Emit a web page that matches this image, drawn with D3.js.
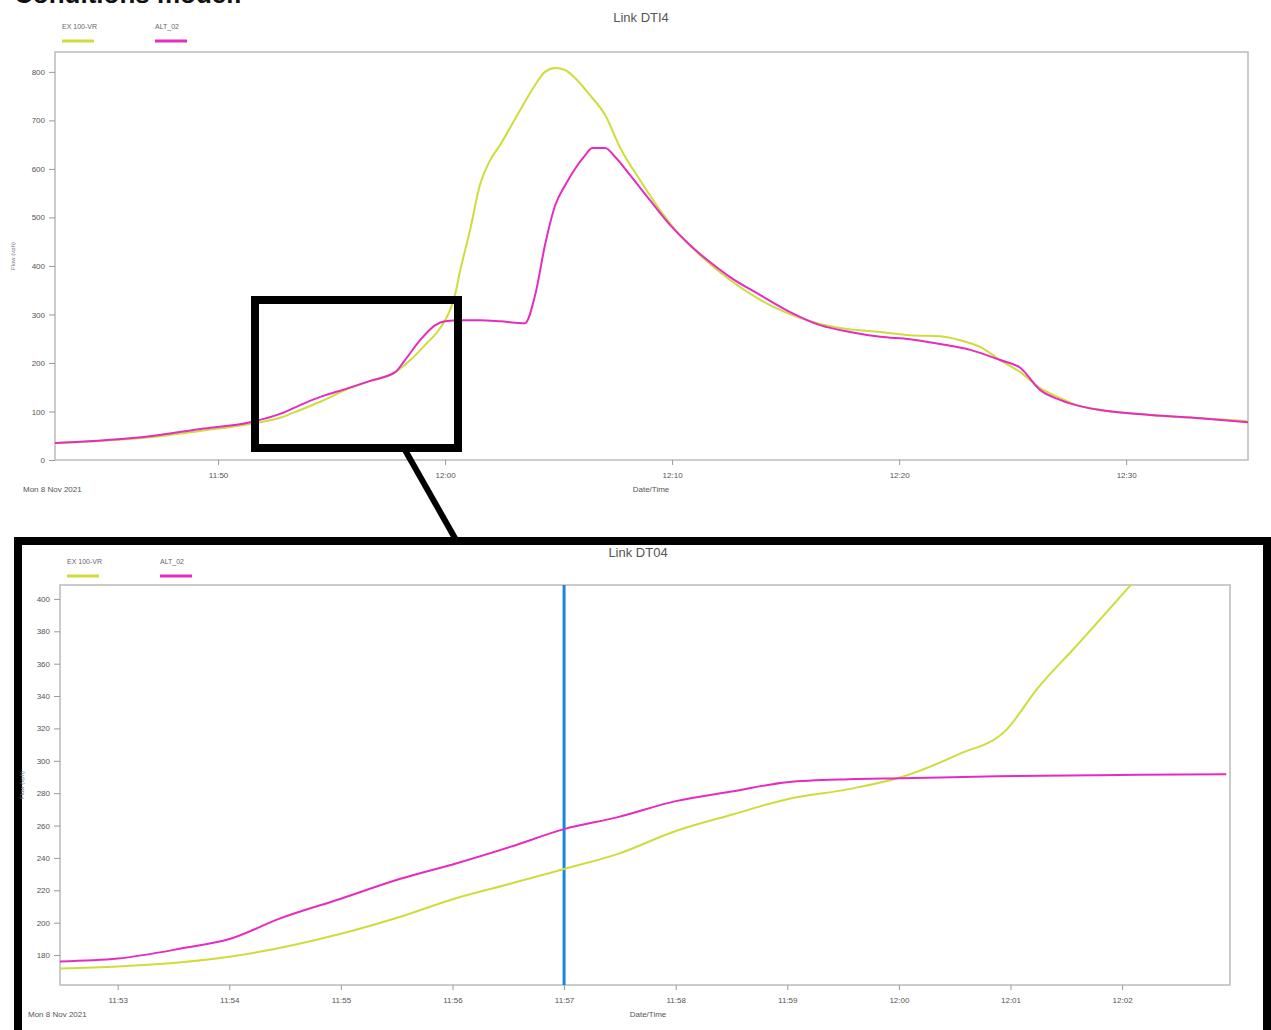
<!DOCTYPE html>
<html>
<head>
<meta charset="utf-8">
<script src="https://d3js.org/d3.v7.min.js"></script>
<style>
  body { margin: 0; background: #fff; }
  svg { display: block; font-family: "Liberation Sans", Arial, sans-serif; }
  .tick text { fill: #555; font-size: 8px; }
  .tick line { stroke: #999; }
  .domain { display: none; }
</style>
</head>
<body>
<svg width="1271" height="1030"></svg>
<script>
// ---- top chart: Link DTI4 (whole peak) ----
var topExTimes = ["11:42:49","11:47:00","11:49:13","11:51:25","11:52:44","11:53:37","11:54:30","11:55:36","11:56:42","11:57:48","11:58:28","11:59:07","11:59:47","12:00:13","12:00:26","12:00:40","12:01:06","12:01:32","12:01:59","12:02:25","12:03:18","12:03:58","12:04:24","12:04:51","12:05:17","12:05:44","12:06:23","12:07:03","12:07:43","12:08:35","12:09:28","12:10:21","12:11:14","12:12:33","12:13:53","12:15:38","12:17:24","12:19:10","12:20:29","12:21:48","12:22:41","12:23:34","12:24:27","12:25:20","12:26:13","12:27:05","12:27:58","12:28:51","12:31:04","12:33:16","12:35:22"];
var topExFlow = [35,47,60,74,87,103,120,144,163,181,206,237,272,309,340,391,474,567,618,649,721,773,800,808,804,787,752,711,643,577,515,463,422,371,330,293,272,264,257,255,247,233,206,181,148,128,111,103,93,86,80];

var topAltTimes = ["11:42:49","11:47:00","11:49:13","11:51:25","11:52:44","11:53:37","11:54:30","11:55:36","11:56:42","11:57:48","11:58:14","11:58:54","11:59:34","12:00:00","12:00:40","12:01:32","12:02:25","12:03:31","12:03:58","12:04:24","12:04:51","12:05:17","12:05:44","12:06:10","12:06:29","12:07:03","12:07:29","12:08:09","12:09:02","12:09:55","12:10:47","12:11:40","12:12:33","12:13:53","12:15:12","12:16:31","12:17:50","12:19:10","12:20:29","12:21:48","12:23:08","12:24:27","12:25:20","12:26:13","12:27:05","12:27:58","12:28:51","12:31:04","12:33:16","12:35:22"];
var topAltFlow = [35,49,64,78,95,113,130,146,163,181,206,247,278,286,288,288,286,282,340,443,525,566,601,628,643,643,625,587,535,484,443,408,377,340,305,278,264,254,249,239,227,206,190,144,124,111,103,93,86,78];

var topTicksX = ["11:50:00","12:00:00","12:10:00","12:20:00","12:30:00"];
var topTicksY = [0,100,200,300,400,500,600,700,800];

// ---- bottom chart: Link DT04 (zoom 11:52 - 12:03) ----
var botExTimes = ["11:52:29","11:53:00","11:54:01","11:55:00","11:55:32","11:56:01","11:56:31","11:57:00","11:57:29","11:58:00","11:58:31","11:59:00","11:59:33","12:00:01","12:00:32","12:00:58","12:01:14","12:01:36","12:02:08"];
var botExFlow = [171.7,172.9,179.1,193.2,203.7,214.8,224,233.2,242.5,256.6,267,276.3,282.5,289.8,304,319.4,344,371.7,413];

var botAltTimes = ["11:52:29","11:53:00","11:53:34","11:54:01","11:54:27","11:55:00","11:55:32","11:56:01","11:56:31","11:57:00","11:57:29","11:58:00","11:58:31","11:59:00","11:59:33","12:00:01","12:00:53","12:01:47","12:02:56"];
var botAltFlow = [176,177.8,184,190.2,202.5,214.8,227.1,236.3,246.8,257.8,265.2,275.1,281.2,286.8,288.6,289.2,290.5,291.1,291.7];

var botTicksX = ["11:53:00","11:54:00","11:55:00","11:56:00","11:57:00","11:58:00","11:59:00","12:00:00","12:01:00","12:02:00"];
var botTicksY = [180,200,220,240,260,280,300,320,340,360,380,400];
var markerTime = "11:57:00";

var seriesNames = ["EX 100-VR", "ALT_02"];
var seriesColors = ["#cfdc3a", "#e52cc0"];

var parseT = d3.timeParse("%H:%M:%S");
var fmtT = d3.timeFormat("%H:%M");
var svg = d3.select("svg");

function zip(times, vals) {
  return times.map(function(t, i) { return {t: parseT(t), v: vals[i]}; });
}

function drawChart(cfg) {
  var x = d3.scaleTime().domain(cfg.xDomain.map(parseT)).range([cfg.left, cfg.right]);
  var y = d3.scaleLinear().domain(cfg.yDomain).range([cfg.bottom, cfg.top]);

  // title
  svg.append("text").attr("x", cfg.titleX).attr("y", cfg.titleY)
    .attr("text-anchor", "middle").attr("fill", "#555").style("font-size", "13px")
    .text(cfg.title);

  // legend
  seriesNames.forEach(function(name, i) {
    var lx = cfg.legendX + i * 93;
    svg.append("text").attr("x", lx).attr("y", cfg.legendY)
      .attr("fill", "#666").style("font-size", "7px").text(name);
    svg.append("line").attr("x1", lx).attr("x2", lx + 32)
      .attr("y1", cfg.legendY + 12).attr("y2", cfg.legendY + 12)
      .attr("stroke", seriesColors[i]).attr("stroke-width", 3);
  });

  // plot frame
  svg.append("rect").attr("x", cfg.left).attr("y", cfg.top)
    .attr("width", cfg.right - cfg.left).attr("height", cfg.bottom - cfg.top)
    .attr("fill", "none").attr("stroke", "#bbb").attr("stroke-width", 1.5);

  // axes
  svg.append("g").attr("transform", "translate(" + cfg.left + ",0)")
    .call(d3.axisLeft(y).tickValues(cfg.yTicks).tickSize(6).tickPadding(4));
  svg.append("g").attr("transform", "translate(0," + cfg.bottom + ")")
    .call(d3.axisBottom(x).tickValues(cfg.xTicks.map(parseT)).tickFormat(fmtT).tickSize(5).tickPadding(7));

  svg.append("text").attr("x", cfg.dateX).attr("y", cfg.bottom + 32)
    .attr("fill", "#555").style("font-size", "8px").text("Mon 8 Nov 2021");
  svg.append("text").attr("x", cfg.dtX).attr("y", cfg.bottom + 32)
    .attr("text-anchor", "middle").attr("fill", "#555").style("font-size", "8px").text("Date/Time");
  svg.append("text")
    .attr("transform", "translate(" + cfg.yLabelX + "," + ((cfg.top + cfg.bottom) / 2) + ") rotate(-90)")
    .attr("text-anchor", "middle").attr("fill", "#777").style("font-size", "6px").text("Flow (vph)");

  // clip + lines
  var clipId = "clip" + cfg.id;
  svg.append("clipPath").attr("id", clipId).append("rect")
    .attr("x", cfg.left).attr("y", cfg.top)
    .attr("width", cfg.right - cfg.left).attr("height", cfg.bottom - cfg.top);
  var g = svg.append("g").attr("clip-path", "url(#" + clipId + ")");
  var line = d3.line().x(function(d) { return x(d.t); }).y(function(d) { return y(d.v); })
    .curve(d3.curveMonotoneX);

  if (cfg.marker) {
    g.append("line").attr("x1", x(parseT(cfg.marker))).attr("x2", x(parseT(cfg.marker)))
      .attr("y1", cfg.top).attr("y2", cfg.bottom)
      .attr("stroke", "#1a86e0").attr("stroke-width", 3);
  }
  cfg.series.forEach(function(s, i) {
    g.append("path").datum(s).attr("d", line)
      .attr("fill", "none").attr("stroke", seriesColors[i]).attr("stroke-width", cfg.lineW);
  });
  return x;
}

// page heading, cut off at top edge
svg.append("text").attr("x", 14).attr("y", 3)
  .style("font-size", "26px").style("font-weight", "bold").attr("fill", "#111")
  .text("Conditions model:");

drawChart({
  id: 1, title: "Link DTI4", titleX: 641, titleY: 22,
  legendX: 62, legendY: 29,
  left: 55, right: 1248, top: 52, bottom: 460,
  xDomain: ["11:42:49", "12:35:22"], yDomain: [0, 841],
  xTicks: topTicksX, yTicks: topTicksY,
  dateX: 23, dtX: 651, yLabelX: 15, lineW: 2,
  series: [zip(topExTimes, topExFlow), zip(topAltTimes, topAltFlow)]
});

// zoom box on top chart + connector
svg.append("rect").attr("x", 255).attr("y", 300).attr("width", 203).attr("height", 148)
  .attr("fill", "none").attr("stroke", "#000").attr("stroke-width", 8);
svg.append("line").attr("x1", 405).attr("y1", 450).attr("x2", 456).attr("y2", 540)
  .attr("stroke", "#000").attr("stroke-width", 6);

// bottom panel frame
svg.append("rect").attr("x", 18).attr("y", 541).attr("width", 1249).attr("height", 500)
  .attr("fill", "#fff").attr("stroke", "#000").attr("stroke-width", 8);

drawChart({
  id: 2, title: "Link DT04", titleX: 638, titleY: 557,
  legendX: 67, legendY: 564,
  left: 60, right: 1230, top: 585, bottom: 985,
  xDomain: ["11:52:29", "12:02:58"], yDomain: [161.5, 408.6],
  xTicks: botTicksX, yTicks: botTicksY,
  dateX: 28, dtX: 648, yLabelX: 24, lineW: 2,
  marker: markerTime,
  series: [zip(botExTimes, botExFlow), zip(botAltTimes, botAltFlow)]
});
</script>
</body>
</html>
